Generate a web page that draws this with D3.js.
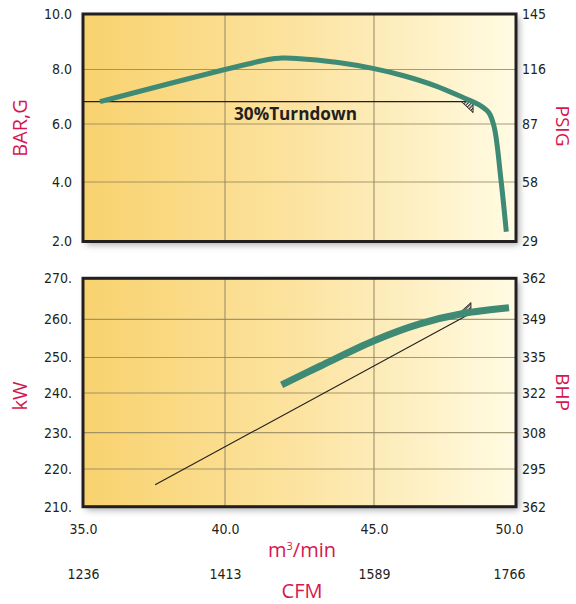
<!DOCTYPE html>
<html>
<head>
<meta charset="utf-8">
<script src="https://cdn.jsdelivr.net/npm/d3@7"></script>
<style>
  body { margin: 0; background: #fff; }
</style>
</head>
<body>
<svg id="chart" width="576" height="604"></svg>
<script>
// ---- data ----
const flowTicks = [35, 40, 45, 50];
const flowLabels = ["35.0", "40.0", "45.0", "50.0"];
const cfmLabels = ["1236", "1413", "1589", "1766"];

const barTicks = [2, 4, 6, 8, 10];
const barLabels = ["2.0", "4.0", "6.0", "8.0", "10.0"];
const psigLabels = ["29", "58", "87", "116", "145"];

const kwTicks = [210, 220, 230, 240, 250, 260, 270];
const kwLabels = ["210.", "220.", "230.", "240.", "250.", "260.", "270."];
const bhpLabels = ["362", "295", "308", "322", "335", "349", "362"];

// pressure vs flow (m3/min, bar g)
const pressureFlow = [35.6, 41.5, 41.9, 42.4, 43.8, 45.0, 46.1, 47.3, 48.3, 48.9, 49.25, 49.45, 49.7, 49.9];
const pressureBar  = [6.82, 8.37, 8.41, 8.40, 8.25, 8.03, 7.77, 7.39, 6.97, 6.70, 6.42, 5.90, 4.10, 2.33];

// power vs flow (m3/min, kW)
const powerFlow = [41.9, 43.2, 45.0, 46.7, 48.3, 50.0];
const powerKw   = [242.3, 247.6, 254.4, 258.8, 261.4, 262.8];

// 30% turndown lines
const turndownFlow = [35, 48.67];
const turndownBar = [6.82, 6.82];
const turndownPowerFlow = [37.54, 48.59];
const turndownKw = [215.8, 261.5];

// ---- layout ----
const left = 83, right = 516;
const topPanel = { y0: 14, y1: 241.5 };
const botPanel = { y0: 278.3, y1: 506.7 };
const ink = "#231f20";
const red = "#d6174f";
const green = "#3e8a74";
const tickFont = "'Liberation Sans Narrow', 'Arial Narrow', 'DejaVu Sans Condensed', sans-serif";
const titleFont = "'Open Sans', 'Noto Sans', sans-serif";

const svg = d3.select("#chart");

// scales (chart grid is not quite even, so piecewise)
const x = d3.scaleLinear().domain(flowTicks).range([83, 225, 374, 509]);
const yBar = d3.scaleLinear().domain(barTicks).range([241.5, 182, 124, 69.5, 14]);
const yKw = d3.scaleLinear().domain(kwTicks).range([506.7, 469, 432.7, 393, 357.5, 319.3, 278.3]);

// defs
const defs = svg.append("defs");
const grad = defs.append("linearGradient").attr("id", "bg").attr("x1", 0).attr("x2", 1).attr("y1", 0).attr("y2", 0);
grad.append("stop").attr("offset", "0%").attr("stop-color", "#f8d26e");
grad.append("stop").attr("offset", "50%").attr("stop-color", "#fce3a0");
grad.append("stop").attr("offset", "100%").attr("stop-color", "#fffbe3");

const shadow = defs.append("filter").attr("id", "shadow")
  .attr("x", "-5%").attr("y", "-5%").attr("width", "115%").attr("height", "115%");
shadow.append("feDropShadow").attr("dx", 3).attr("dy", 3).attr("stdDeviation", 3.5)
  .attr("flood-color", "#000").attr("flood-opacity", 0.35);

const hatch = defs.append("pattern").attr("id", "hatch")
  .attr("patternUnits", "userSpaceOnUse").attr("width", 2.4).attr("height", 2.4)
  .attr("patternTransform", "rotate(45)");
hatch.append("rect").attr("width", 2.4).attr("height", 2.4).attr("fill", "#fffbe8");
hatch.append("line").attr("x1", 0.6).attr("y1", 0).attr("x2", 0.6).attr("y2", 2.4)
  .attr("stroke", ink).attr("stroke-width", 1.1);

// panels
function drawPanel(p, yScale, ticks, leftLabs, rightLabs) {
  const g = svg.append("g");
  g.append("rect")
    .attr("x", left).attr("y", p.y0)
    .attr("width", right - left).attr("height", p.y1 - p.y0)
    .attr("fill", "url(#bg)")
    .attr("filter", "url(#shadow)");

  // grid
  g.selectAll(".vgrid").data(flowTicks.slice(1, -1)).enter().append("line")
    .attr("x1", d => x(d)).attr("x2", d => x(d))
    .attr("y1", p.y0).attr("y2", p.y1)
    .attr("stroke", "#8f8260").attr("stroke-opacity", 0.8).attr("stroke-width", 1.2);
  g.selectAll(".hgrid").data(ticks.slice(1, -1)).enter().append("line")
    .attr("x1", left).attr("x2", right)
    .attr("y1", d => yScale(d)).attr("y2", d => yScale(d))
    .attr("stroke", "#8f8260").attr("stroke-opacity", 0.8).attr("stroke-width", 1.2);

  // left / right tick labels
  const la = g.append("g").attr("transform", `translate(${left},0)`)
    .call(d3.axisLeft(yScale).tickValues(ticks).tickFormat((d, i) => leftLabs[i]).tickSize(0).tickPadding(11));
  const ra = g.append("g").attr("transform", `translate(${right},0)`)
    .call(d3.axisRight(yScale).tickValues(ticks).tickFormat((d, i) => rightLabs[i]).tickSize(0).tickPadding(6));
  [la, ra].forEach(a => {
    a.select(".domain").remove();
    a.selectAll("text").attr("font-family", tickFont).attr("font-size", 14).attr("fill", ink);
  });
  return g;
}

const gTop = drawPanel(topPanel, yBar, barTicks, barLabels, psigLabels);
const gBot = drawPanel(botPanel, yKw, kwTicks, kwLabels, bhpLabels);

// turndown lines + hatched markers
const tdTop = d3.line().x((d, i) => x(turndownFlow[i])).y((d, i) => yBar(turndownBar[i]));
gTop.append("path").attr("d", tdTop(turndownFlow)).attr("fill", "none").attr("stroke", ink).attr("stroke-width", 1.3);
{
  const ex = x(turndownFlow[1]), ey = yBar(turndownBar[1]);
  gTop.append("path").attr("d", `M${ex - 11.7},${ey}L${ex},${ey}L${ex},${ey + 11}Z`)
    .attr("fill", "url(#hatch)").attr("stroke", ink).attr("stroke-width", 0.9);
}
gTop.append("text").attr("x", 234).attr("y", 120)
  .attr("font-family", titleFont).attr("font-weight", "bold").attr("font-size", 17.5)
  .attr("textLength", 123).attr("lengthAdjust", "spacingAndGlyphs")
  .attr("fill", ink).text("30%Turndown");

const tdBot = d3.line().x((d, i) => x(turndownPowerFlow[i])).y((d, i) => yKw(turndownKw[i]));
gBot.append("path").attr("d", tdBot(turndownPowerFlow)).attr("fill", "none").attr("stroke", ink).attr("stroke-width", 1.1);
{
  const ex = x(turndownPowerFlow[1]), ey = yKw(turndownKw[1]);
  gBot.append("path").attr("d", `M${ex - 11.7},${ey}L${ex},${ey}L${ex},${ey - 10.6}Z`)
    .attr("fill", "url(#hatch)").attr("stroke", ink).attr("stroke-width", 0.9);
}

// curves
const pLine = d3.line().curve(d3.curveCatmullRom.alpha(0.5))
  .x((d, i) => x(pressureFlow[i])).y((d, i) => yBar(pressureBar[i]));
gTop.append("path").attr("d", pLine(pressureFlow))
  .attr("fill", "none").attr("stroke", green).attr("stroke-width", 5);

const kLine = d3.line().curve(d3.curveCatmullRom.alpha(0.5))
  .x((d, i) => x(powerFlow[i])).y((d, i) => yKw(powerKw[i]));
gBot.append("path").attr("d", kLine(powerFlow))
  .attr("fill", "none").attr("stroke", green).attr("stroke-width", 7);

// frames on top
[topPanel, botPanel].forEach(p => {
  svg.append("rect")
    .attr("x", left).attr("y", p.y0)
    .attr("width", right - left).attr("height", p.y1 - p.y0)
    .attr("fill", "none").attr("stroke", ink).attr("stroke-width", 3);
});

// x axes (m3/min and CFM)
const xa1 = svg.append("g").attr("transform", `translate(0,${botPanel.y1})`)
  .call(d3.axisBottom(x).tickValues(flowTicks).tickFormat((d, i) => flowLabels[i]).tickSize(0).tickPadding(17));
const xa2 = svg.append("g").attr("transform", `translate(0,${botPanel.y1})`)
  .call(d3.axisBottom(x).tickValues(flowTicks).tickFormat((d, i) => cfmLabels[i]).tickSize(0).tickPadding(62));
[xa1, xa2].forEach(a => {
  a.select(".domain").remove();
  a.selectAll("text").attr("font-family", tickFont).attr("font-size", 14).attr("fill", ink);
});

// axis titles
function title(txt, tx, ty, rot, size) {
  svg.append("text")
    .attr("transform", `translate(${tx},${ty}) rotate(${rot})`)
    .attr("text-anchor", "middle").attr("dominant-baseline", "central")
    .attr("font-family", titleFont).attr("font-size", size).attr("fill", red)
    .text(txt);
}
title("BAR,G", 19, 128, -90, 20);
title("PSIG", 563, 126, 90, 19);
title("kW", 19, 396, -90, 20);
title("BHP", 563, 392, 90, 19);

const mt = svg.append("text").attr("x", 302).attr("y", 557).attr("text-anchor", "middle")
  .attr("font-family", titleFont).attr("font-size", 20).attr("fill", red);
mt.append("tspan").text("m");
mt.append("tspan").attr("font-size", 11).attr("dy", -7).text("3");
mt.append("tspan").attr("dy", 7).text("/min");

svg.append("text").attr("x", 302).attr("y", 598).attr("text-anchor", "middle")
  .attr("font-family", titleFont).attr("font-size", 20).attr("fill", red).text("CFM");
</script>
</body>
</html>
